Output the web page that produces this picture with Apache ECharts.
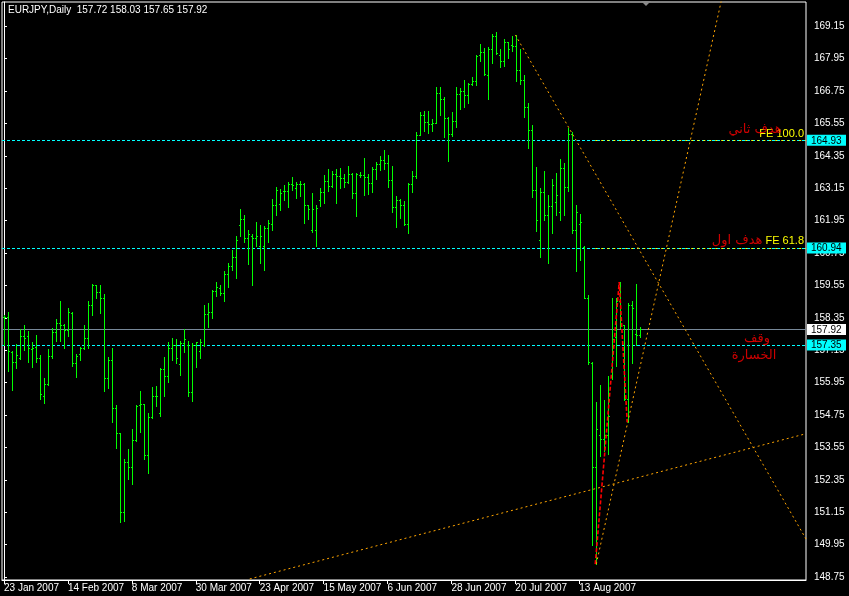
<!DOCTYPE html>
<html><head><meta charset="utf-8">
<script src="https://cdn.jsdelivr.net/npm/echarts@6/dist/echarts.min.js"></script>
<style>html,body{margin:0;padding:0;background:#000;overflow:hidden}#c{width:849px;height:596px}</style>
</head><body><div id="c"></div>
<script>
// ---- DATA ----
const opens=[158.40,158.40,157.10,156.73,156.87,157.69,157.69,157.20,157.29,156.87,155.47,155.90,156.95,157.82,158.15,158.10,157.90,158.54,156.67,157.01,
157.24,157.61,158.83,159.55,159.30,159.09,156.12,156.79,155.03,154.08,151.17,153.02,152.83,153.82,155.13,155.16,153.28,154.69,155.47,154.83,
156.45,156.18,157.24,157.35,156.64,157.42,157.33,155.59,157.33,157.14,157.33,158.50,158.56,159.36,159.46,159.28,159.96,160.29,160.60,161.78,
162.02,161.30,161.40,161.32,161.03,161.03,161.69,161.84,162.55,162.58,163.05,163.05,163.30,163.17,163.32,163.30,162.52,161.62,161.62,162.73,
163.01,163.41,163.23,163.67,163.60,163.55,163.38,163.69,162.97,163.63,163.63,163.57,163.35,163.85,164.04,164.21,164.10,163.47,162.46,162.70,
162.55,161.84,163.32,163.60,165.14,165.88,165.61,165.55,165.57,166.69,166.44,165.77,165.18,165.63,166.66,166.75,166.60,167.03,167.13,168.08,
168.21,167.34,168.31,168.79,168.08,167.86,168.56,168.46,168.42,167.55,167.18,166.17,165.30,163.10,161.25,163.01,162.17,162.51,162.64,162.27,
163.92,163.20,165.18,161.59,161.81,160.99,159.07,156.69,152.83,154.01,153.86,154.01,156.15,157.63,158.99,158.07,155.35,158.81,157.76,157.72];
const highs=[158.45,158.58,157.14,157.39,157.94,158.10,157.85,157.47,157.73,156.99,156.13,157.20,157.98,158.31,158.96,158.12,158.72,158.56,157.01,157.29,
158.07,158.99,159.59,159.58,159.55,159.22,156.89,157.24,155.13,154.10,153.14,153.49,154.24,155.12,155.65,155.17,154.84,155.80,155.83,156.49,
156.91,157.44,157.61,157.56,157.51,157.94,157.51,157.42,157.47,157.57,158.81,158.92,159.40,159.67,159.55,160.07,160.40,160.85,161.40,162.37,
162.15,161.59,161.44,161.89,161.78,161.74,161.96,162.74,163.19,163.11,163.26,163.37,163.56,163.37,163.41,163.33,162.55,162.99,162.52,163.15,
163.63,163.85,163.78,163.85,163.89,163.67,163.96,163.70,163.70,163.74,164.26,163.67,163.93,164.11,164.34,164.56,164.37,163.96,162.85,162.74,
162.67,163.33,163.78,165.23,165.97,166.01,166.01,165.71,166.90,166.90,166.53,165.78,165.97,166.90,166.86,167.16,167.04,167.27,168.08,168.49,
168.34,168.38,168.86,168.94,168.31,168.68,168.57,168.79,168.83,168.31,167.34,166.30,165.49,163.93,163.15,163.78,162.89,163.48,163.70,164.22,
164.08,165.38,165.23,162.55,162.19,161.00,159.18,156.70,155.24,155.88,155.32,156.21,159.07,159.07,159.675,158.10,158.92,158.96,159.59,158.03];
const lows=[157.33,156.37,155.69,156.48,156.83,157.17,156.70,156.52,156.70,155.35,155.18,155.88,156.87,157.48,157.48,157.22,157.69,156.55,156.15,156.79,
157.20,157.24,158.47,159.08,158.52,155.65,155.77,154.48,153.53,150.79,150.83,152.38,152.19,153.80,154.14,153.12,152.59,154.64,155.10,154.70,
155.44,155.96,156.79,156.67,156.22,157.10,155.44,155.26,156.54,156.85,157.30,158.00,158.35,159.15,159.18,158.99,159.51,160.11,159.81,161.37,
161.15,160.33,159.55,161.03,160.40,160.14,161.15,161.59,162.15,162.33,162.70,162.44,163.08,162.78,162.85,161.85,162.00,161.52,161.03,162.48,
162.59,163.04,163.19,162.59,163.15,163.19,163.33,162.78,162.11,163.56,162.89,162.93,163.00,163.48,163.82,163.85,163.19,162.26,161.70,162.04,
161.78,161.48,163.00,163.52,165.12,165.27,165.19,165.27,165.56,165.86,165.04,164.15,165.08,165.41,166.08,166.15,166.30,166.97,166.97,167.86,
167.34,166.45,167.79,168.12,167.64,167.68,167.97,168.23,167.12,167.01,165.78,164.63,162.83,161.55,160.59,161.96,160.40,161.48,162.15,161.96,
162.15,163.04,161.48,160.07,160.51,159.07,156.66,149.94,149.23,153.24,153.43,153.32,156.10,156.58,157.99,155.32,154.485,156.69,157.33,157.65];
const closes=[158.40,157.14,156.73,156.99,157.69,157.60,157.24,157.22,156.87,155.53,155.90,156.95,157.82,158.15,158.10,157.90,158.56,156.67,156.95,157.24,
157.61,158.83,159.55,159.30,159.09,156.12,156.79,155.03,154.08,151.17,153.02,152.83,153.82,155.10,155.16,153.28,154.69,155.47,155.45,156.45,
156.18,157.24,157.35,156.87,157.42,157.55,155.59,157.33,157.44,157.47,158.50,158.56,159.36,159.49,159.28,159.96,160.29,160.60,161.22,162.02,
161.30,161.47,161.32,161.37,161.40,161.69,161.86,162.55,163.10,162.99,163.05,163.30,163.29,163.32,163.30,162.52,162.40,162.40,162.43,163.01,
163.41,163.23,163.67,163.60,163.55,163.38,163.69,162.97,163.69,163.63,163.57,163.35,163.85,164.04,164.21,164.10,163.47,162.46,162.70,162.55,
161.84,163.32,163.60,165.14,165.88,165.61,165.55,165.57,166.69,166.44,165.77,165.18,165.63,166.66,166.75,166.60,167.03,167.13,168.05,168.21,
167.40,168.31,168.79,168.17,167.86,168.56,168.30,168.42,167.55,167.18,166.17,165.30,163.10,161.99,163.01,162.17,162.51,163.29,162.90,163.92,
163.20,165.18,161.59,162.27,161.90,159.10,156.70,152.83,154.22,153.86,154.01,154.73,157.57,158.99,158.07,155.35,158.81,158.70,157.72,157.92];
const tickIndex=[0,16,32,48,64,80,96,112,128,144];
const tickDates=['23 Jan 2007','14 Feb 2007','8 Mar 2007','30 Mar 2007','23 Apr 2007','15 May 2007','6 Jun 2007','28 Jun 2007','20 Jul 2007','13 Aug 2007'];
const priceTicks=[148.75,149.95,151.15,152.35,153.55,154.75,155.95,157.15,158.35,159.55,160.75,161.95,163.15,164.35,165.55,166.75,167.95,169.15];
const levelLines=[164.93,160.94,157.35];
const bidPrice=157.92;
const feLevels=[164.93,160.94];
const feNames=['FE 100.0','FE 61.8'];
const fePoints=[[148,149.23],[154,159.675],[156,154.485]];
const trendLines=[[[128,168.83],[200.75,150.16]],[[61.5,148.68],[200.75,154.06]],[[148.25,149.23],[182,171.73]]];
const notes=[[188,165.34,'هدف ثاني'],[183.5,161.22,'هدف اول'],[188.5,157.58,'وقف'],[187.75,156.95,'الخسارة']];
// ---- CHART ----
const X_MIN=-0.5, X_MAX=200.75, Y_MIN=148.641, Y_MAX=170.051;
const bars=opens.map((o,i)=>[i,o,closes[i],lows[i],highs[i]]);
const last=opens.length-1;
const FONT='Liberation Sans';
const chart=echarts.init(document.getElementById('c'),null,{renderer:'canvas'});
const BAR='#00ff00';
function renderBar(params,api){
  const i=api.value(0);
  const o=api.coord([i,api.value(1)]),c=api.coord([i,api.value(2)]),l=api.coord([i,api.value(3)]),h=api.coord([i,api.value(4)]);
  const x=2*Math.round(h[0]/2);const yh=Math.round(h[1]),yl=Math.round(l[1]);
  const yo=Math.round(o[1]), yc=Math.round(c[1]);
  return {type:'group',children:[
    {type:'rect',shape:{x:x,y:yh,width:1,height:Math.max(1,yl-yh+1)},style:{fill:BAR}},
    {type:'rect',shape:{x:x-1,y:yo,width:1,height:1},style:{fill:BAR}},
    {type:'rect',shape:{x:x+1,y:yc,width:1,height:1},style:{fill:BAR}}
  ]};
}
const fmtPrice=v=>v.toFixed(2);
const series=[];
series.push({type:'custom',renderItem:renderBar,data:bars,encode:{x:0,y:[1,2,3,4]},z:3,silent:true,
  emphasis:{disabled:true},itemStyle:{color:BAR,opacity:1}});
trendLines.forEach((tl,k)=>{
  const s={type:'line',data:tl,symbol:'none',clip:true,silent:true,z:6,
    lineStyle:{color:'#ffa500',width:1,type:[2,3]}};
  if(k===0){
    s.markLine={silent:true,symbol:['none','none'],animation:false,label:{show:false},z:2,
      data:levelLines.map(v=>({yAxis:v,lineStyle:{color:'#00ffff',type:[3,2],width:1}}))
        .concat([{yAxis:bidPrice,lineStyle:{color:'#778899',type:'solid',width:1}}])};
  }
  if(k===1){
    s.markLine={silent:true,symbol:['none','none'],animation:false,
      data:feLevels.map((v,j)=>[{coord:[fePoints[0][0],v],lineStyle:{color:'#ffff00',type:[2,4],width:1},
        label:{show:true,position:'insideEndTop',formatter:feNames[j],color:'#ffff00',fontSize:11,fontFamily:FONT,distance:[2,1]}},
        {coord:[X_MAX,v]}])};
  }
  series.push(s);
});
series.push({type:'line',data:fePoints,symbol:'none',silent:true,z:7,lineStyle:{color:'#ff0000',width:1.6,type:[4,2]}});
series.push({type:'scatter',data:notes,symbolSize:0,silent:true,z:8,
  label:{show:true,position:'inside',formatter:p=>p.data[2],color:'#ff0000',fontSize:13,fontFamily:'DejaVu Sans'}});
const boxVals=levelLines.concat([bidPrice]);
chart.setOption({
  animation:false,
  backgroundColor:'#000',
  title:{text:'EURJPY,Daily  '+[opens[last],highs[last],lows[last],closes[last]].map(fmtPrice).join(' '),
    left:8,top:5,padding:0,textStyle:{color:'#fff',fontSize:10,fontWeight:'normal',fontFamily:FONT}},
  grid:{left:2,right:41,top:2,bottom:16,show:true,borderColor:'#fff',borderWidth:1,backgroundColor:'transparent'},
  xAxis:{type:'value',min:X_MIN,max:X_MAX,splitLine:{show:false},
    axisLine:{show:true,lineStyle:{color:'#fff'}},
    axisTick:{show:true,customValues:tickIndex,length:4,lineStyle:{color:'#fff'}},
    axisLabel:{customValues:tickIndex,formatter:v=>tickDates[tickIndex.indexOf(Math.round(v))]||'',
      align:'left',margin:3,color:'#fff',fontSize:10,fontFamily:FONT}},
  yAxis:[{type:'value',position:'right',min:Y_MIN,max:Y_MAX,splitLine:{show:false},scale:true,
    axisLine:{show:true,lineStyle:{color:'#fff'}},
    axisTick:{show:true,customValues:priceTicks,length:3,lineStyle:{color:'#fff'}},
    axisLabel:{customValues:priceTicks,formatter:fmtPrice,color:'#fff',margin:8,fontSize:10,fontFamily:FONT}},
   {type:'value',position:'right',min:Y_MIN,max:Y_MAX,splitLine:{show:false},scale:true,
    axisLine:{show:false},axisTick:{show:false},
    axisLabel:{customValues:boxVals,margin:1,
      formatter:v=>(Math.abs(v-bidPrice)<0.001?'{w|':'{c|')+fmtPrice(v)+'}',
      rich:{c:{backgroundColor:'#00ffff',color:'#000',fontSize:10,fontFamily:FONT,padding:[1,5,0,4],width:30},
            w:{backgroundColor:'#ffffff',color:'#000',fontSize:10,fontFamily:FONT,padding:[1,5,0,4],width:30}}}}],
  graphic:[{type:'polygon',shape:{points:[[641,1],[651,1],[646,6]]},style:{fill:'#8a8a8a'},z:10}],
  series:series
});
</script></body></html>
